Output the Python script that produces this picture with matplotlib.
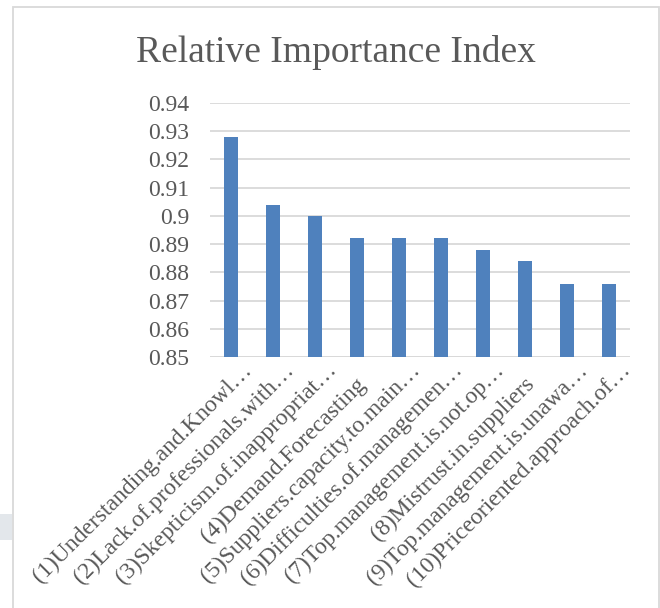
import matplotlib
matplotlib.use("Agg")
import matplotlib.pyplot as plt
from matplotlib.patches import Rectangle
from matplotlib.transforms import ScaledTranslation

categories = [
    "(1)Understanding.and.Knowl…",
    "(2)Lack.of.professionals.with…",
    "(3)Skepticism.of.inappropriat…",
    "(4)Demand.Forecasting",
    "(5)Suppliers.capacity.to.main…",
    "(6)Difficulties.of.managemen…",
    "(7)Top.management.is.not.op…",
    "(8)Mistrust.in.suppliers",
    "(9)Top.management.is.unawa…",
    "(10)Priceoriented.approach.of…",
]
rii = [0.928, 0.904, 0.900, 0.892, 0.892, 0.892, 0.888, 0.884, 0.876, 0.876]
y_ticks = [0.85, 0.86, 0.87, 0.88, 0.89, 0.90, 0.91, 0.92, 0.93, 0.94]
y_tick_labels = ["0.85", "0.86", "0.87", "0.88", "0.89", "0.9", "0.91", "0.92", "0.93", "0.94"]

W, H = 660, 608
text_color = "#595959"
grid_color = "#d9d9d9"
bar_color = "#4f81bd"

plt.rcParams["font.family"] = ["Liberation Serif", "DejaVu Serif"]

fig = plt.figure(figsize=(W / 100, H / 100), dpi=100)
fig.patch.set_facecolor("white")

# chart border
fig.add_artist(Rectangle((13 / W, -0.05), (659 - 13) / W, 1.05 - 7 / H,
                         transform=fig.transFigure, fill=False,
                         edgecolor="#d9d9d9", linewidth=1.3))
# faint mark at the left margin
fig.add_artist(Rectangle((0, 1 - 540 / H), 12 / W, 26 / H,
                         transform=fig.transFigure, facecolor="#e3e7eb",
                         edgecolor="none"))

left, right, top, bottom = 210, 630, 103, 357
ax = fig.add_axes([left / W, 1 - bottom / H, (right - left) / W, (bottom - top) / H])

x = list(range(len(categories)))
ax.bar(x, rii, width=0.33, color=bar_color, zorder=3)
ax.set_xlim(-0.5, len(categories) - 0.5)
ax.set_ylim(0.85, 0.94)
ax.set_yticks(y_ticks)
ax.set_yticklabels(y_tick_labels, fontsize=17, color=text_color)
ax.yaxis.grid(True, color=grid_color, linewidth=1.3, zorder=0)
ax.tick_params(axis="y", length=0, pad=15)
ax.tick_params(axis="x", length=0, pad=10)
for s in ax.spines.values():
    s.set_visible(False)
ax.axhline(0.85, color=grid_color, linewidth=1.3, zorder=2)

ax.set_xticks(x)
ax.set_xticklabels(categories, fontsize=17, color=text_color,
                   rotation=45, ha="right", va="baseline", rotation_mode="anchor")
for lbl in ax.get_xticklabels():
    if lbl.get_text().endswith("…"):
        dx, dy = 22, 0
    else:
        dx, dy = 10, -14
    lbl.set_transform(lbl.get_transform()
                      + ScaledTranslation(dx / 100, dy / 100, fig.dpi_scale_trans))

fig.text(336 / W, 1 - 62 / H, "Relative Importance Index", fontsize=27,
         color=text_color, ha="center", va="baseline")

fig.savefig("out.png", dpi=100)
